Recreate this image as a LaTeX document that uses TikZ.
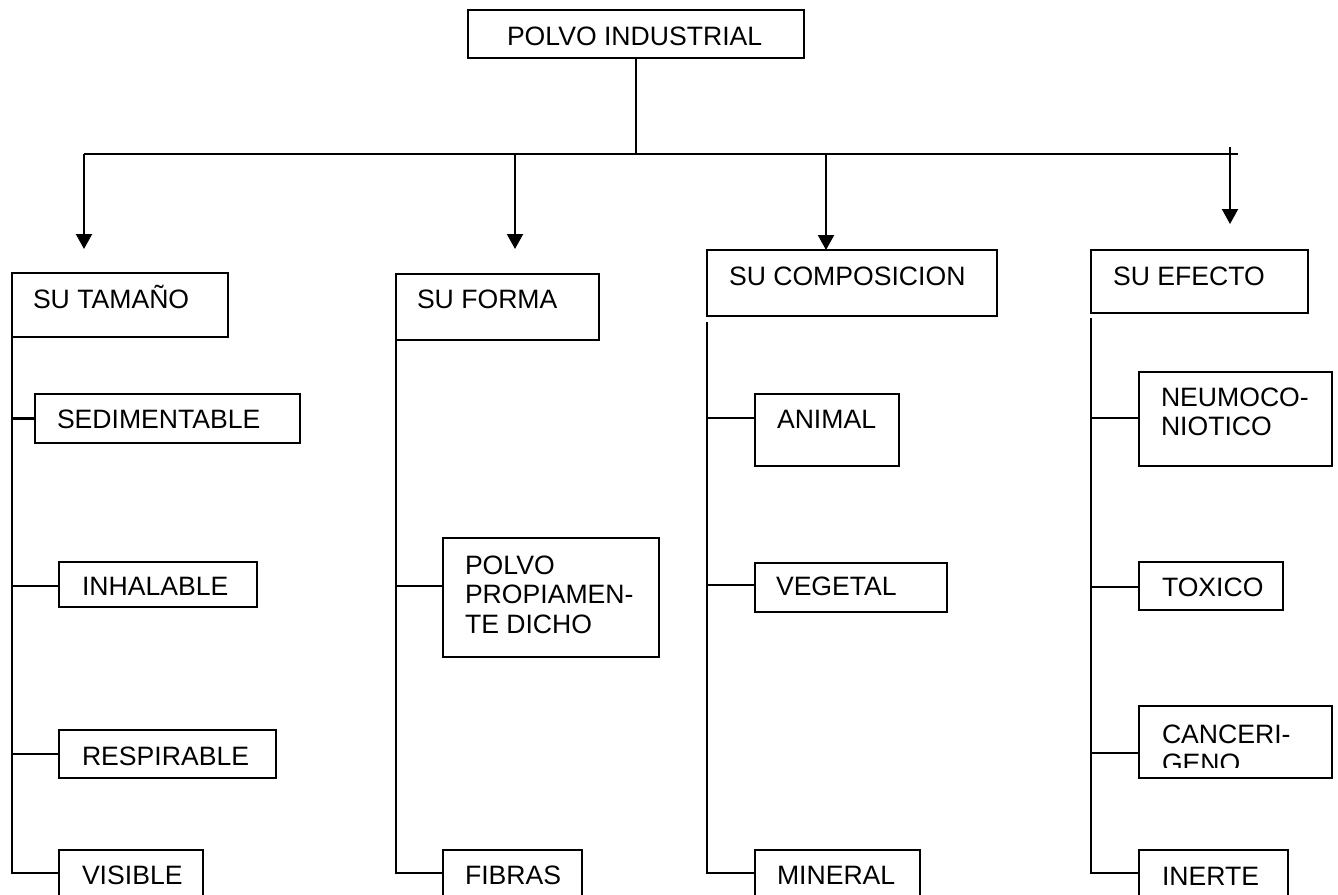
\documentclass[tikz,border=0pt]{standalone}
\usepackage{fontspec}
\setmainfont{Liberation Sans}
\usetikzlibrary{arrows.meta}
\newcommand{\BX}[5]{\node[box, minimum width={#4-#2}, minimum height={#5-#3}] (#1) at ({(#2+#4)/2},{(#3+#5)/2}) {};}
\begin{document}
\begin{tikzpicture}[x=1pt,y=-1pt,
  box/.style={draw, line width=2.1pt, inner sep=0pt, outer sep=0pt, rectangle},
  lbl/.style={anchor=base west, inner sep=0pt, outer sep=0pt, font=\fontsize{26.6}{29}\selectfont},
  ln/.style={line width=2.1pt},
  arr/.style={line width=2.1pt, -{Triangle[width=16pt,length=15pt]}}]
\useasboundingbox (0,0) rectangle (1338,894);
\clip (0,0) rectangle (1338,894);
\fill[white] (0,0) rectangle (1338,894);

% boxes
\BX{top}{468}{10}{804}{58}
\BX{tam}{12}{273}{228}{337}
\BX{sed}{35}{394}{300}{443}
\BX{inh}{59}{562}{257}{607}
\BX{resp}{59}{730}{276}{778}
\BX{vis}{59}{850}{203}{910}
\BX{for}{396}{274}{599}{340}
\BX{pol}{443}{538}{659}{657}
\BX{fib}{443}{850}{582}{910}
\BX{comp}{707}{250}{997}{316}
\BX{ani}{755}{394}{899}{466}
\BX{veg}{755}{563}{947}{612}
\BX{min}{755}{850}{920}{910}
\BX{efe}{1091}{250}{1308}{313}
\BX{neu}{1139}{372}{1332}{466}
\BX{tox}{1139}{562}{1283}{610}
\BX{can}{1139}{706}{1332}{778}
\BX{ine}{1139}{850}{1288}{910}

% texts
\node[lbl] (ttop) at (507,45) {POLVO INDUSTRIAL};
\node[lbl] (ttam) at (33,308) {SU TAMAÑO};
\node[lbl] (tsed) at (57,428) {SEDIMENTABLE};
\node[lbl] (tinh) at (82,595) {INHALABLE};
\node[lbl] (tresp) at (82,765) {RESPIRABLE};
\node[lbl] (tvis) at (82,884) {VISIBLE};
\node[lbl] (tfor) at (417,308) {SU FORMA};
\node[lbl] (tpol1) at (465,574) {POLVO};
\node[lbl] (tpol2) at (465,603) {PROPIAMEN-};
\node[lbl] (tpol3) at (465,633) {TE DICHO};
\node[lbl] (tfib) at (465,884) {FIBRAS};
\node[lbl] (tcomp) at (729,285) {SU COMPOSICION};
\node[lbl] (tani) at (777,428) {ANIMAL};
\node[lbl] (tveg) at (776,595) {VEGETAL};
\node[lbl] (tmin) at (777,884) {MINERAL};
\node[lbl] (tefe) at (1113,285) {SU EFECTO};
\node[lbl] (tneu1) at (1161,406) {NEUMOCO-};
\node[lbl] (tneu2) at (1161,435) {NIOTICO};
\node[lbl] (ttox) at (1162,596) {TOXICO};
\node[lbl] (tcan1) at (1162,743) {CANCERI-};
\begin{scope}
\clip (1139,706) rectangle (1332,767);
\node[lbl] (tcan2) at (1162,772) {GENO};
\end{scope}
\node[lbl] (tine) at (1162,885) {INERTE};

% trunk and top line
\coordinate (hl) at (84,154);
\coordinate (hr) at (1238,154);
\draw[ln] (top.south) -- (top.south |- hl);
\draw[ln] (hl) -- (hr);
\coordinate (a2) at (515,154);
\coordinate (a3) at (826,154);
\coordinate (a4s) at (1230,147);
\coordinate (a1t) at (84,249);
\coordinate (a2t) at (515,249);
\coordinate (a4t) at (1230,224);
\draw[arr] (hl) -- (a1t);
\draw[arr] (a2) -- (a2t);
\draw[arr] (a3) -- (a3 |- comp.north);
\draw[arr] (a4s) -- (a4t);

% column 1
\coordinate (s1) at (12,873);
\draw[ln] (tam.south west) -- (s1) -- (s1 -| vis.west);
\draw[ln] (sed.west) -- (sed.west -| s1);
\coordinate (c1b) at (12,586);
\draw[ln] (c1b) -- (c1b -| inh.west);
\draw[ln] (resp.west) -- (resp.west -| s1);

% column 2
\coordinate (s2) at (396,873);
\draw[ln] (for.south west) -- (s2) -- (s2 -| fib.west);
\coordinate (c2a) at (396,586);
\draw[ln] (c2a) -- (c2a -| pol.west);

% column 3
\coordinate (s3t) at (707,322);
\coordinate (s3) at (707,873);
\draw[ln] (s3t) -- (s3) -- (s3 -| min.west);
\coordinate (c3a) at (707,418);
\coordinate (c3b) at (707,585);
\draw[ln] (c3a) -- (c3a -| ani.west);
\draw[ln] (c3b) -- (c3b -| veg.west);

% column 4
\coordinate (s4t) at (1091,318);
\coordinate (s4) at (1091,873);
\draw[ln] (s4t) -- (s4) -- (s4 -| ine.west);
\coordinate (c4a) at (1091,418);
\coordinate (c4b) at (1091,587);
\coordinate (c4c) at (1091,753);
\draw[ln] (c4a) -- (c4a -| neu.west);
\draw[ln] (c4b) -- (c4b -| tox.west);
\draw[ln] (c4c) -- (c4c -| can.west);
\end{tikzpicture}
\end{document}
